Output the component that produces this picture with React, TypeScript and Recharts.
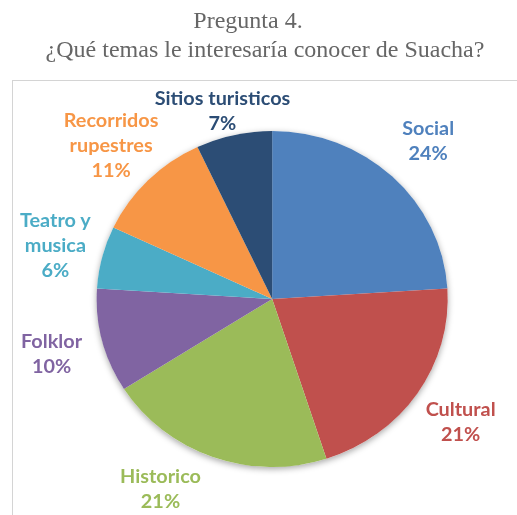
import React from 'react';
import { PieChart, Pie, Cell } from 'recharts';

// Pregunta 4 - temas de interes (porcentaje de respuestas)
const categories = ['Social', 'Cultural', 'Historico', 'Folklor', 'Teatro y\nmusica', 'Recorridos\nrupestres', 'Sitios turisticos'];
const percents = [24, 21, 21, 10, 6, 11, 7];
const COLORS = ['#4F81BD', '#C0504D', '#9BBB59', '#8064A2', '#4BACC6', '#F79646', '#2C4D75'];

const titleLines = ['Pregunta 4.', '¿Qué temas le interesaría conocer de Suacha?'];

const data = categories.map((name, i) => ({ name, value: percents[i] }));
const total = percents.reduce((a, b) => a + b, 0);

// the original picture is a little wider than tall
const STRETCH = 1.045;
const W = 517 / STRETCH;
const RAD = Math.PI / 180;
const LINE_H = 25;
const FONT = 'Lato, "Noto Sans", sans-serif';
const SERIF = '"Liberation Serif", "Times New Roman", serif';

const renderLabel = (props: any) => {
  const { cx, cy, midAngle, outerRadius, index } = props;
  const lines = [...categories[index].split('\n'), `${percents[index]}%`];
  const longest = Math.max(...lines.map((l) => l.length));
  const halfW = (longest * 9.5) / 2;
  const halfH = (lines.length * LINE_H) / 2;
  const r = outerRadius + 50;
  let x = cx + r * Math.cos(-midAngle * RAD);
  let y = cy + r * Math.sin(-midAngle * RAD);
  // labels that would fall below the chart area slide along the circle
  const maxY = 514 - halfH;
  if (y > maxY) {
    const phi = Math.acos((maxY - cy) / r);
    const side = x < cx ? -1 : 1;
    x = cx + side * r * Math.sin(phi);
    y = maxY;
  }
  // keep the label inside the chart area
  y = Math.max(y, 86 + halfH);
  x = Math.max(x, 15 + halfW);
  x = Math.min(x, W - 4 - halfW);
  const top = y - halfH + LINE_H / 2 + 7;
  return (
    <text
      key={`lbl-${index}`}
      x={x}
      y={top}
      textAnchor="middle"
      fill={COLORS[index]}
      fontFamily={FONT}
      fontWeight="bold"
      fontSize={19}
    >
      {lines.map((l, i) => (
        <tspan key={i} x={x} dy={i === 0 ? 0 : LINE_H}>
          {l}
        </tspan>
      ))}
    </text>
  );
};

export default function App() {
  return (
    <div style={{ position: 'absolute', left: 0, top: 0, width: 517, height: 515, overflow: 'hidden', background: '#fff' }}>
      <div
        style={{
          position: 'absolute',
          left: 12,
          top: 80,
          width: 520,
          height: 460,
          border: '1.5px solid #d4d4d4',
          boxSizing: 'border-box',
        }}
      />
      <div style={{ position: 'absolute', left: 0, top: 0, transform: `scaleX(${STRETCH})`, transformOrigin: '0 0' }}>
        <svg width={W} height={75} style={{ position: 'absolute', left: 0, top: 0 }}>
          <text x={248 / STRETCH} y={28.5} textAnchor="middle" fontFamily={SERIF} fontSize={23} fill="#666">
            {titleLines[0]}
          </text>
          <text x={265 / STRETCH} y={57} textAnchor="middle" fontFamily={SERIF} fontSize={23} fill="#666">
            {titleLines[1]}
          </text>
        </svg>
        <PieChart width={W} height={515} margin={{ top: 0, right: 0, bottom: 0, left: 0 }}>
          <Pie
            data={[{ name: 'total', value: total }]}
            dataKey="value"
            cx={272.2 / STRETCH}
            cy={299}
            outerRadius={168}
            startAngle={90}
            endAngle={-270}
            stroke="none"
            fill="#fff"
            style={{ filter: 'drop-shadow(0px 2px 3px rgba(0,0,0,0.35))' }}
            isAnimationActive={false}
          />
          <Pie
            data={data}
            dataKey="value"
            nameKey="name"
            cx={272.2 / STRETCH}
            cy={299}
            outerRadius={168}
            startAngle={90}
            endAngle={-270}
            stroke="none"
            labelLine={false}
            label={renderLabel}
            isAnimationActive={false}
          >
            {data.map((entry, index) => (
              <Cell key={`cell-${index}`} fill={COLORS[index]} />
            ))}
          </Pie>
        </PieChart>
      </div>
    </div>
  );
}
